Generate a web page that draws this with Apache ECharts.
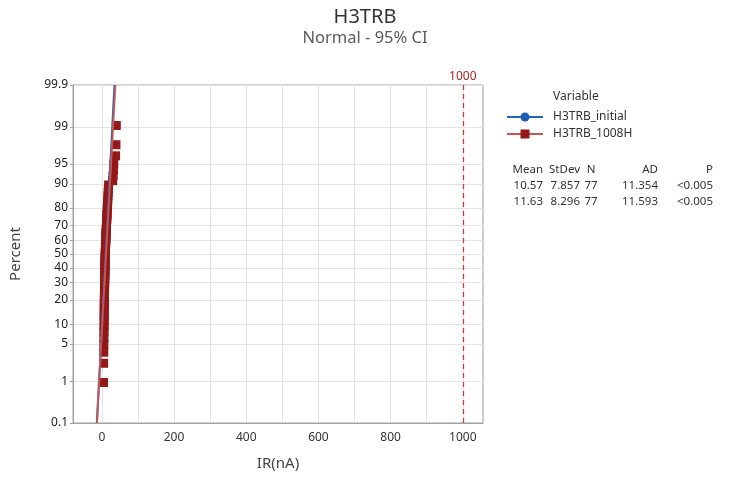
<!DOCTYPE html>
<html><head><meta charset="utf-8">
<script src="https://cdn.jsdelivr.net/npm/echarts@6/dist/echarts.min.js"></script>
<style>html,body{margin:0;padding:0;background:#fff}#c{width:730px;height:480px}</style>
</head><body><div id="c"></div>
<script>
// ---- data ----
const percentTicks = [0.1, 1, 5, 10, 20, 30, 40, 50, 60, 70, 80, 90, 95, 99, 99.9];
const xTickLabels = [0, 200, 400, 600, 800, 1000];
const xGridValues = [0, 100, 200, 300, 400, 500, 600, 700, 800, 900, 1000];
const seriesNames = ['H3TRB_initial', 'H3TRB_1008H'];
const initialValues = [
  3.8, 4.2, 4.5, 4.7, 4.9, 5.0, 5.2, 5.3, 5.4, 5.5,
  5.6, 5.7, 5.8, 5.9, 6.0, 6.1, 6.2, 6.3, 6.4, 6.5,
  6.6, 6.7, 6.8, 6.9, 7.0, 7.1, 7.2, 7.3, 7.4, 7.5,
  7.6, 7.7, 7.8, 7.9, 8.0, 8.2, 8.3, 8.4, 8.6, 8.8,
  9.0, 9.1, 9.3, 9.5, 9.7, 9.9, 10.1, 10.3, 10.6, 10.9,
  11.2, 11.5, 11.8, 12.1, 12.4, 12.7, 13.0, 13.4, 13.8, 14.2,
  14.6, 15.0, 15.5, 16.0, 16.5, 17.0, 17.6, 29, 30, 31, 32, 36, 37, 38
];
const h1008Values = [
  4.6, 5.0, 5.3, 5.5, 5.7, 5.9, 6.0, 6.2, 6.3, 6.4,
  6.5, 6.6, 6.7, 6.8, 6.9, 7.0, 7.1, 7.2, 7.3, 7.4,
  7.5, 7.6, 7.7, 7.8, 7.9, 8.0, 8.1, 8.2, 8.3, 8.4,
  8.5, 8.6, 8.8, 8.9, 9.0, 9.2, 9.3, 9.5, 9.6, 9.8,
  10.0, 10.2, 10.4, 10.6, 10.8, 11.0, 11.2, 11.5, 11.8, 12.0,
  12.3, 12.6, 12.9, 13.2, 13.5, 13.8, 14.1, 14.4, 14.8, 15.2,
  15.6, 16.0, 16.5, 17.0, 17.5, 18.0, 18.6, 30, 31, 32, 33, 38, 39, 40
];
const statMean = [10.57, 11.63];
const statStDev = [7.857, 8.296];
const statN = [77, 77];
const statP = ['<0.005', '<0.005'];
const statMeanText = ['10.57', '11.63'];
const statStDevText = ['7.857', '8.296'];
const statADText = ['11.354', '11.593'];
const refValue = 1000;

// ---- normal probability scale ----
function invNorm(p){
  const a=[-3.969683028665376e+01,2.209460984245205e+02,-2.759285104469687e+02,1.383577518672690e+02,-3.066479806614716e+01,2.506628277459239e+00];
  const b=[-5.447609879822406e+01,1.615858368580409e+02,-1.556989798598866e+02,6.680131188771972e+01,-1.328068155288572e+01];
  const c=[-7.784894002430293e-03,-3.223964580411365e-01,-2.400758277161838e+00,-2.549732539343734e+00,4.374664141464968e+00,2.938163982698783e+00];
  const d=[7.784695709041462e-03,3.224671290700398e-01,2.445134137142996e+00,3.754408661907416e+00];
  const pl=0.02425, ph=1-pl; let q,r;
  if(p<pl){q=Math.sqrt(-2*Math.log(p));return (((((c[0]*q+c[1])*q+c[2])*q+c[3])*q+c[4])*q+c[5])/((((d[0]*q+d[1])*q+d[2])*q+d[3])*q+1);}
  if(p<=ph){q=p-0.5;r=q*q;return (((((a[0]*r+a[1])*r+a[2])*r+a[3])*r+a[4])*r+a[5])*q/(((((b[0]*r+b[1])*r+b[2])*r+b[3])*r+b[4])*r+1);}
  q=Math.sqrt(-2*Math.log(1-p));return -(((((c[0]*q+c[1])*q+c[2])*q+c[3])*q+c[4])*q+c[5])/((((d[0]*q+d[1])*q+d[2])*q+d[3])*q+1);
}
const zTicks = percentTicks.map(p => invNorm(p/100));
const zLo = zTicks[0], zHi = zTicks[zTicks.length-1];

function probPoints(vals){
  const s = vals.slice().sort((x,y)=>x-y);
  const n = s.length;
  return s.map((v,i)=>[v, invNorm((i+1-0.3)/(n+0.4))]);
}
function fitLine(k){
  return [[statMean[k]+statStDev[k]*zLo, zLo],[statMean[k]+statStDev[k]*zHi, zHi]];
}

const FONT = 'Noto Sans';
const blue = '#1a5fb4', blueLine = '#1f64b8';
const red = '#931818', redLine = '#c05858';

const chart = echarts.init(document.getElementById('c'), null, {renderer:'canvas'});

// legend + stats table as graphic
const g = [];
g.push({type:'text', left:553, top:91, style:{text:'Variable', font:'12px "'+FONT+'"', fill:'#333'}});
const legY = [117, 134];
const legLineC = [blueLine, redLine];
legY.forEach((y,k)=>{
  g.push({type:'line', shape:{x1:507,y1:y,x2:543,y2:y}, style:{stroke:legLineC[k], lineWidth:2}});
  if(k===0) g.push({type:'circle', shape:{cx:525,cy:y,r:4.5}, style:{fill:blue}});
  else g.push({type:'rect', shape:{x:520.5,y:y-4.5,width:9,height:9}, style:{fill:red}});
  g.push({type:'text', x:553, y:y, style:{text:seriesNames[k], font:'12px "'+FONT+'"', fill:'#333', textVerticalAlign:'middle'}});
});
const cols = [
  {x:543, a:'right', h:'Mean', v:statMeanText},
  {x:580, a:'right', h:'StDev', v:statStDevText},
  {x:591, a:'center', h:'N', v:statN.map(String)},
  {x:658, a:'right', h:'AD', v:statADText},
  {x:713, a:'right', h:'P', v:statP}
];
const rowY = [170, 186, 202];
cols.forEach(col=>{
  g.push({type:'text', x:col.x, y:rowY[0], style:{text:col.h, font:'11.5px "'+FONT+'"', fill:'#333', textAlign:col.a, textVerticalAlign:'middle'}});
  col.v.forEach((t,k)=>{
    g.push({type:'text', x:col.x, y:rowY[k+1], style:{text:t, font:'11.5px "'+FONT+'"', fill:'#333', textAlign:col.a, textVerticalAlign:'middle'}});
  });
});

const option = {
  animation:false,
  textStyle:{fontFamily:FONT},
  title:{text:'H3TRB', subtext:'Normal - 95% CI', left:'center', top:2, itemGap:3,
    textStyle:{fontSize:20, fontWeight:'normal', color:'#333', fontFamily:FONT},
    subtextStyle:{fontSize:16.5, color:'#5a5a5a', fontFamily:FONT}},
  grid:{left:72, right:247, top:85, bottom:57, show:true, borderColor:'#a0a0a0', borderWidth:1},
  xAxis:{type:'value', min:-80, max:1056, name:'IR(nA)', nameLocation:'middle', nameGap:33,
    nameTextStyle:{fontSize:15, color:'#444', fontFamily:FONT},
    axisLine:{show:true, onZero:false, lineStyle:{color:'#a0a0a0'}},
    axisTick:{show:false, customValues:xGridValues},
    axisLabel:{customValues:xTickLabels, color:'#333', fontSize:12, margin:9, fontFamily:FONT,
      formatter:(v)=>String(v)},
    splitLine:{show:true, lineStyle:{color:'#e3e3e3', width:1}}},
  yAxis:{type:'value', min:zLo, max:zHi, name:'Percent', nameLocation:'middle', nameGap:50,
    nameTextStyle:{fontSize:15, color:'#444', fontFamily:FONT},
    axisLine:{show:true, onZero:false, lineStyle:{color:'#a0a0a0'}},
    axisTick:{show:true, length:3, customValues:zTicks, lineStyle:{color:'#a0a0a0'}},
    axisLabel:{customValues:zTicks, color:'#222', fontSize:12, margin:5, fontFamily:FONT,
      formatter:(v)=>{let bi=0,bd=1e9;zTicks.forEach((z,i)=>{const dd=Math.abs(z-v);if(dd<bd){bd=dd;bi=i;}});return String(percentTicks[bi]);}},
    splitLine:{show:true, lineStyle:{color:'#e3e3e3', width:1}}},
  series:[
    {type:'line', name:seriesNames[0]+' fit', data:fitLine(0), showSymbol:false, silent:true,
      lineStyle:{color:blueLine, width:2}},
    {type:'scatter', name:seriesNames[0], data:probPoints(initialValues), symbol:'circle', symbolSize:7,
      itemStyle:{color:blue, opacity:1}},
    {type:'line', name:seriesNames[1]+' fit', data:fitLine(1), showSymbol:false, silent:true,
      lineStyle:{color:redLine, width:2},
      markLine:{silent:true, symbol:['none','none'], data:[{xAxis:refValue}],
        lineStyle:{color:'#d23a3a', type:[5,4], width:1.3},
        label:{show:true, position:'end', formatter:String(refValue), color:'#a82424', fontSize:12, distance:2, fontFamily:FONT}}},
    {type:'scatter', name:seriesNames[1], data:probPoints(h1008Values), symbol:'rect', symbolSize:9,
      itemStyle:{color:red, opacity:1}}
  ],
  graphic:g
};
chart.setOption(option);
</script></body></html>
